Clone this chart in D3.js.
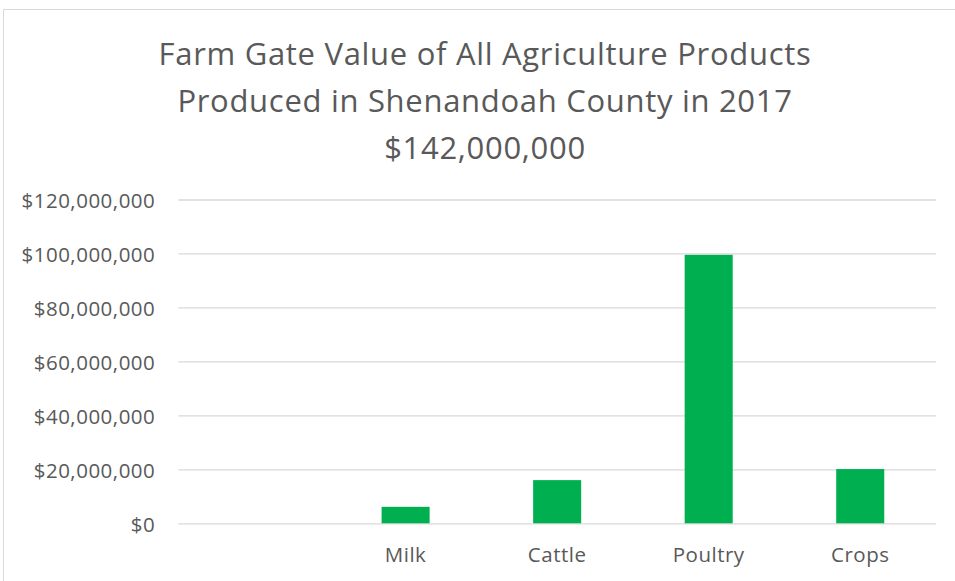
<!DOCTYPE html>
<html>
<head>
<meta charset="utf-8">
<script src="https://cdn.jsdelivr.net/npm/d3@7"></script>
<style>
  html, body { margin: 0; padding: 0; background: #fff; }
  svg { display: block; }
  text { font-family: "Open Sans", Lato, sans-serif; fill: #595959; }
</style>
</head>
<body>
<svg id="chart" width="955" height="581"></svg>
<script>
// Farm gate value by product group, Shenandoah County, 2017
const categories = ["", "Milk", "Cattle", "Poultry", "Crops"];
const values = [null, 6100000, 16000000, 99500000, 20100000];
const yTicks = [0, 20000000, 40000000, 60000000, 80000000, 100000000, 120000000];
const titleLines = [
  "Farm Gate Value of All Agriculture Products",
  "Produced in Shenandoah County in 2017",
  "$142,000,000"
];

const width = 955, height = 581;
const margin = { top: 199.5, right: 19, bottom: 57.7, left: 178.3 };
const labelFont = 20.5;
const labelSpacing = 0.5;

const svg = d3.select("#chart");

// chart frame
svg.append("rect")
  .attr("x", 3.5).attr("y", 9.5)
  .attr("width", 960).attr("height", 600)
  .attr("fill", "#fff")
  .attr("stroke", "#d9d9d9").attr("stroke-width", 1);

// title
const title = svg.append("text")
  .attr("text-anchor", "middle")
  .attr("font-size", 31)
  .attr("letter-spacing", 0.7);
titleLines.forEach((line, i) => {
  title.append("tspan")
    .attr("x", 485)
    .attr("y", 65 + i * 47)
    .text(line);
});

const x = d3.scaleBand()
  .domain(categories)
  .range([margin.left, width - margin.right])
  .paddingInner(0.683)
  .paddingOuter(0.3415);

const y = d3.scaleLinear()
  .domain([0, 120000000])
  .range([height - margin.bottom, margin.top]);

const fmt = v => "$" + d3.format(",")(v);

// horizontal gridlines + y labels
const yAxis = d3.axisLeft(y)
  .tickValues(yTicks)
  .tickFormat(fmt)
  .tickSize(-(width - margin.right - margin.left))
  .tickPadding(23);

const gy = svg.append("g")
  .attr("transform", `translate(${margin.left},0)`)
  .call(yAxis);
gy.select(".domain").remove();
gy.selectAll(".tick line").attr("stroke", "#d9d9d9").attr("stroke-width", 1.3);
gy.selectAll(".tick text")
  .attr("font-size", labelFont)
  .attr("letter-spacing", labelSpacing)
  .attr("dy", "0.38em")
  .attr("fill", "#595959")
  .attr("font-family", "'Open Sans', Lato, sans-serif");

// bars
svg.append("g")
  .selectAll("rect")
  .data(categories.map((c, i) => ({ c, v: values[i] })).filter(d => d.v != null))
  .join("rect")
  .attr("x", d => x(d.c))
  .attr("y", d => y(d.v))
  .attr("width", x.bandwidth())
  .attr("height", d => y(0) - y(d.v))
  .attr("fill", "#00b050");

// category labels
const xAxis = d3.axisBottom(x).tickSize(0).tickPadding(24);
const gx = svg.append("g")
  .attr("transform", `translate(0,${height - margin.bottom})`)
  .call(xAxis);
gx.select(".domain").remove();
gx.selectAll(".tick text")
  .attr("font-size", labelFont)
  .attr("letter-spacing", labelSpacing)
  .attr("fill", "#595959")
  .attr("font-family", "'Open Sans', Lato, sans-serif");
</script>
</body>
</html>
